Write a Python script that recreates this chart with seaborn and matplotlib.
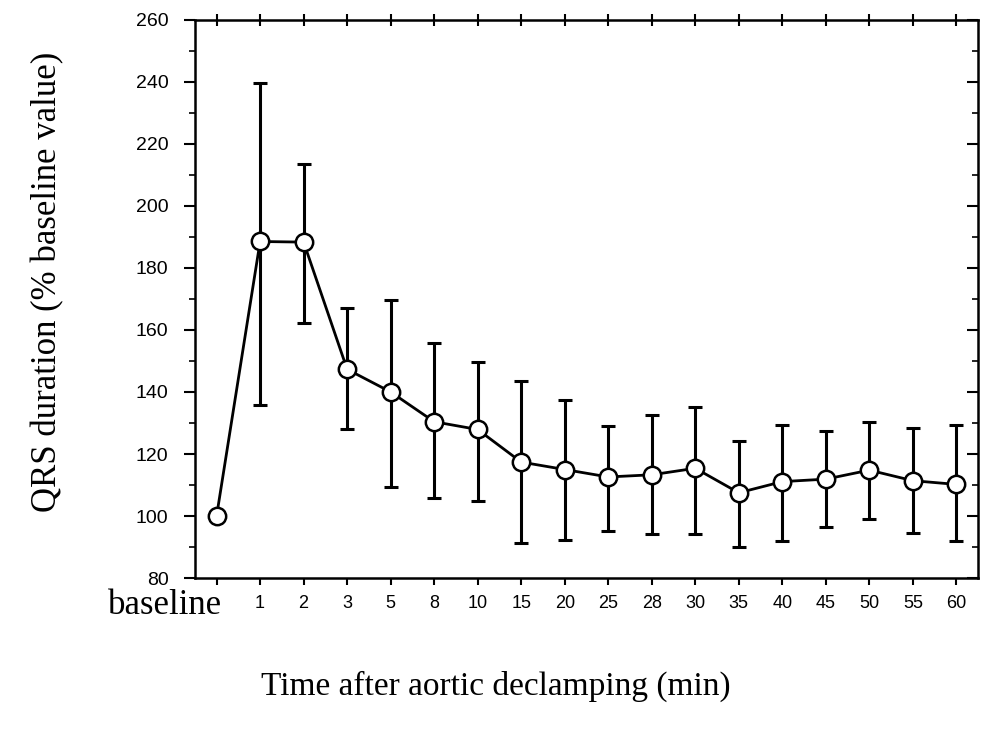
import matplotlib
matplotlib.use("Agg")
import matplotlib.pyplot as plt
import matplotlib.transforms as mtransforms
from matplotlib.ticker import MultipleLocator
import numpy as np
import pandas as pd
import seaborn as sns

# time points after aortic declamping (min)
times = ["baseline", "1", "2", "3", "5", "8", "10", "15", "20", "25",
         "28", "30", "35", "40", "45", "50", "55", "60"]
# QRS duration, % of baseline
qrs_mean = [100, 188.5, 188.3, 147.3, 140, 130.4, 127.9, 117.4, 115, 112.6,
            113.3, 115.4, 107.5, 111.1, 111.9, 114.8, 111.4, 110.2]
# error bar ends (baseline has none)
err_upper = [np.nan, 239.7, 213.4, 167.2, 169.8, 155.7, 149.6, 143.6, 137.5, 129,
             132.5, 135.1, 124.1, 129.5, 127.5, 130.4, 128.3, 129.5]
err_lower = [np.nan, 135.9, 162.1, 128, 109.5, 105.9, 105, 91.4, 92.3, 95.1,
             94.2, 94.2, 90, 91.8, 96.4, 99, 94.6, 91.9]

sns.set_theme(style="ticks")
plt.rcParams["font.family"] = ["Liberation Sans", "DejaVu Sans"]
plt.rcParams["text.color"] = "black"
plt.rcParams["xtick.color"] = "black"
plt.rcParams["ytick.color"] = "black"
plt.rcParams["axes.labelcolor"] = "black"

df = pd.DataFrame({"pos": np.arange(len(times)), "qrs": qrs_mean,
                   "hi": err_upper, "lo": err_lower})

fig = plt.figure(figsize=(9.89, 7.29), dpi=100)
ax = fig.add_axes([0.197, 0.207, 0.792, 0.766])

yerr = [df["qrs"] - df["lo"], df["hi"] - df["qrs"]]
ax.errorbar(df["pos"], df["qrs"], yerr=yerr, fmt="none", ecolor="black",
            elinewidth=2.2, capsize=5, capthick=2.2, zorder=2)
sns.lineplot(data=df, x="pos", y="qrs", ax=ax, color="black", linewidth=2,
             marker="o", markersize=12.5, markerfacecolor="white",
             markeredgecolor="black", markeredgewidth=1.8, zorder=3)

ax.set_xlim(-0.5, len(times) - 0.5)
ax.set_ylim(80, 260)
ax.set_xticks(df["pos"])
ax.set_xticklabels(times, fontsize=13)
ax.yaxis.set_major_locator(MultipleLocator(20))
ax.yaxis.set_minor_locator(MultipleLocator(10))
ax.tick_params(axis="y", which="major", length=8, width=1.5, pad=11, labelsize=14)
ax.tick_params(axis="y", which="minor", length=4, width=1.2)
ax.tick_params(axis="x", which="major", length=5, width=1.5, pad=7)

for s in ax.spines.values():
    s.set_linewidth(1.8)
    s.set_color("black")

# "baseline" label in serif, shifted left
bl = ax.get_xticklabels()[0]
bl.set_fontfamily("Liberation Serif")
bl.set_fontsize(25)
bl.set_transform(bl.get_transform() +
                 mtransforms.ScaledTranslation(-0.52, 0.06, fig.dpi_scale_trans))

# right spine with inward ticks
ax_r = ax.twinx()
ax_r.set_ylim(ax.get_ylim())
ax_r.yaxis.set_major_locator(MultipleLocator(20))
ax_r.yaxis.set_minor_locator(MultipleLocator(10))
ax_r.tick_params(axis="y", which="major", direction="in", length=8, width=1.5, labelright=False)
ax_r.tick_params(axis="y", which="minor", direction="in", length=4, width=1.2)
ax_r.spines[:].set_visible(False)

# top spine with crossing ticks
ax_t = ax.twiny()
ax_t.set_xlim(ax.get_xlim())
ax_t.set_xticks(df["pos"])
ax_t.tick_params(axis="x", direction="inout", length=8, width=1.5, labeltop=False)
ax_t.spines[:].set_visible(False)

ax.set_ylabel("QRS duration (% baseline value)", fontfamily="Liberation Serif", fontsize=25)
ax.set_xlabel("Time after aortic declamping (min)", fontfamily="Liberation Serif", fontsize=24)
ax.yaxis.set_label_coords(-0.166, 0.53)
ax.xaxis.set_label_coords(0.384, -0.165)

fig.savefig("out.png", dpi=100)
